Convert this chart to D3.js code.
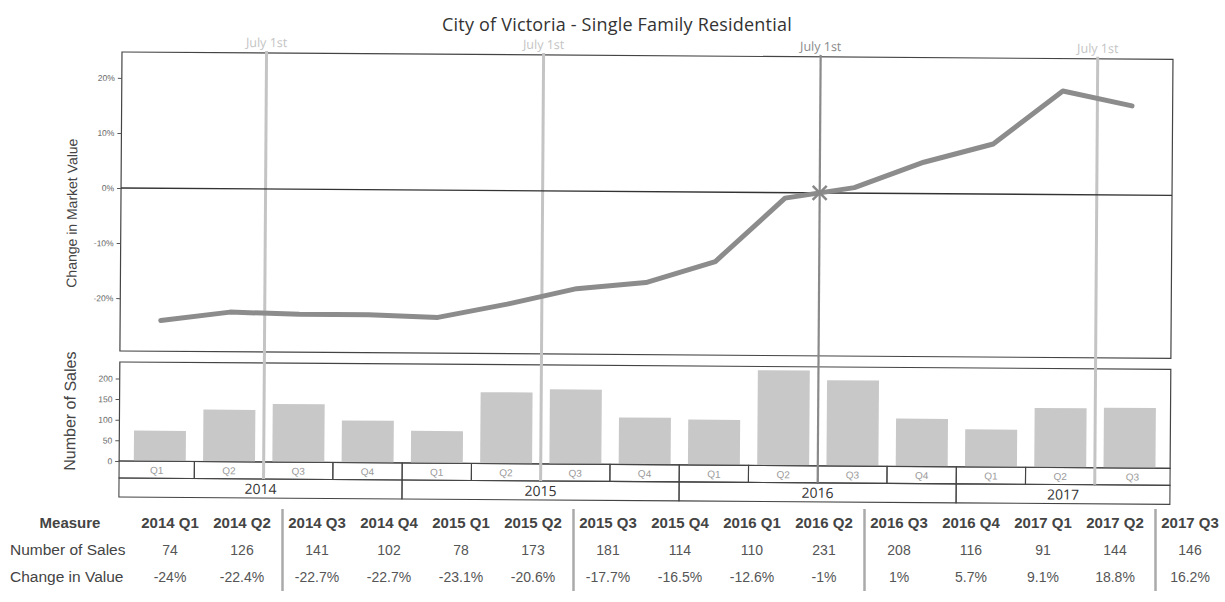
<!DOCTYPE html>
<html>
<head>
<meta charset="utf-8">
<script src="https://cdn.jsdelivr.net/npm/d3@7"></script>
<style>
  body { margin: 0; background: #fff; }
  svg { display: block; }
</style>
</head>
<body>
<svg id="chart" width="1225" height="602"></svg>
<script>
// Quarterly figures, City of Victoria single family residential
const quarters = ["2014 Q1","2014 Q2","2014 Q3","2014 Q4","2015 Q1","2015 Q2","2015 Q3","2015 Q4",
                  "2016 Q1","2016 Q2","2016 Q3","2016 Q4","2017 Q1","2017 Q2","2017 Q3"];
const quarterLabels = ["Q1","Q2","Q3","Q4","Q1","Q2","Q3","Q4","Q1","Q2","Q3","Q4","Q1","Q2","Q3"];
const years = ["2014","2015","2016","2017"];
const salesCount = [74,126,141,102,78,173,181,114,110,231,208,116,91,144,146];
const valueChange = [-24,-22.4,-22.7,-22.7,-23.1,-20.6,-17.7,-16.5,-12.6,-1,1,5.7,9.1,18.8,16.2];
const changeTicks = [20,10,0,-10,-20];
const salesTicks = [0,50,100,150,200];
const julyQuarters = ["2014 Q3","2015 Q3","2016 Q3","2017 Q3"];   // July 1st falls at the start of these
const highlightedJuly = "2016 Q3";
const rowLabels = ["Number of Sales","Change in Value"];

const svg = d3.select("#chart");
const font = "'Liberation Sans', Arial, sans-serif";

// Layout of the two stacked panels
const left = 122, right = 1173;
const lineTop = 52, lineBottom = 351;
const barTop = 362, barBase = 461;
const qRowH = 17, yearRowH = 19;

const x = d3.scaleBand().domain(quarters).range([left + 6, right - 6])
  .paddingInner(0.25).paddingOuter(0.125);
const step = x.step();
const slotStart = q => x(q) - step * 0.125;
const center = q => x(q) + x.bandwidth() / 2;

const yChange = d3.scaleLinear().domain([-29.6, 24.7]).range([lineBottom, lineTop]);
const ySales = d3.scaleLinear().domain([0, 240]).range([barBase, barTop]);

// Title
svg.append("text")
  .attr("x", 617).attr("y", 31)
  .attr("text-anchor", "middle")
  .attr("font-family", "'Open Sans', sans-serif")
  .attr("font-size", 18).attr("font-weight", 500)
  .attr("letter-spacing", 0.2)
  .attr("fill", "#333")
  .text("City of Victoria - Single Family Residential");

const g = svg.append("g").attr("transform", "rotate(0.4 122 52)");

// Panel frames
g.append("rect").attr("x", left).attr("y", lineTop)
  .attr("width", right - left).attr("height", lineBottom - lineTop)
  .attr("fill", "none").attr("stroke", "#444").attr("stroke-width", 1.2);
g.append("rect").attr("x", left).attr("y", barTop)
  .attr("width", right - left).attr("height", barBase - barTop)
  .attr("fill", "none").attr("stroke", "#444").attr("stroke-width", 1.2);

// Bars: number of sales
g.selectAll("rect.bar").data(quarters).join("rect")
  .attr("class", "bar")
  .attr("x", q => x(q))
  .attr("width", x.bandwidth())
  .attr("y", (q, i) => ySales(salesCount[i]))
  .attr("height", (q, i) => ySales(0) - ySales(salesCount[i]))
  .attr("fill", "#c8c8c8");

// Quarter header row
const qBox = (q, i) => ({
  x0: i === 0 ? left : slotStart(q),
  x1: i === quarters.length - 1 ? right : slotStart(q) + step
});
const qRow = g.append("g");
quarters.forEach((q, i) => {
  const b = qBox(q, i);
  qRow.append("rect").attr("x", b.x0).attr("y", barBase)
    .attr("width", b.x1 - b.x0).attr("height", qRowH)
    .attr("fill", "none").attr("stroke", "#444").attr("stroke-width", 1.1);
  qRow.append("text").attr("x", (b.x0 + b.x1) / 2).attr("y", barBase + 12.5)
    .attr("text-anchor", "middle").attr("font-family", font)
    .attr("font-size", 10).attr("fill", "#999").text(quarterLabels[i]);
});

// Year row
years.forEach(yr => {
  const idx = quarters.map((q, i) => i).filter(i => quarters[i].startsWith(yr));
  const b0 = qBox(quarters[idx[0]], idx[0]);
  const b1 = qBox(quarters[idx[idx.length - 1]], idx[idx.length - 1]);
  g.append("rect").attr("x", b0.x0).attr("y", barBase + qRowH)
    .attr("width", b1.x1 - b0.x0).attr("height", yearRowH)
    .attr("fill", "none").attr("stroke", "#444").attr("stroke-width", 1.1);
  g.append("text").attr("x", (b0.x0 + b1.x1) / 2).attr("y", barBase + qRowH + 15)
    .attr("text-anchor", "middle").attr("font-family", "'Open Sans', sans-serif")
    .attr("font-size", 14).attr("fill", "#333").text(yr);
});

// Axes
const axisChange = g.append("g").attr("transform", `translate(${left},0)`)
  .call(d3.axisLeft(yChange).tickValues(changeTicks).tickSize(4).tickFormat(d => d + "%"));
const axisSales = g.append("g").attr("transform", `translate(${left},0)`)
  .call(d3.axisLeft(ySales).tickValues(salesTicks).tickSize(4));
[axisChange, axisSales].forEach(a => {
  a.select(".domain").remove();
  a.selectAll("line").attr("stroke", "#555");
  a.selectAll("text").attr("font-family", font).attr("font-size", 8.5).attr("fill", "#666");
});

g.append("text")
  .attr("transform", `translate(78,${(lineTop + lineBottom) / 2 + 12}) rotate(-90)`)
  .attr("text-anchor", "middle").attr("font-family", font).attr("font-size", 14)
  .attr("fill", "#444").text("Change in Market Value");
g.append("text")
  .attr("transform", `translate(78,${(barTop + barBase) / 2}) rotate(-90)`)
  .attr("text-anchor", "middle").attr("font-family", font).attr("font-size", 16)
  .attr("fill", "#444").text("Number of Sales");

// July 1st reference lines
julyQuarters.forEach(q => {
  const hx = slotStart(q);
  const strong = q === highlightedJuly;
  g.append("line").attr("x1", hx).attr("x2", hx)
    .attr("y1", 50).attr("y2", barBase + qRowH)
    .attr("stroke", strong ? "#8a8a8a" : "#c4c4c4")
    .attr("stroke-width", strong ? 2.2 : 3);
  g.append("text").attr("x", hx).attr("y", 46)
    .attr("text-anchor", "middle").attr("font-family", "'Open Sans', sans-serif")
    .attr("font-size", 12.5).attr("fill", strong ? "#8a8a8a" : "#c4c4c4")
    .text("July 1st");
});

// Zero line
g.append("line").attr("x1", left).attr("x2", right)
  .attr("y1", yChange(0)).attr("y2", yChange(0))
  .attr("stroke", "#333").attr("stroke-width", 1.3);

// Change in market value line
g.append("path")
  .datum(valueChange)
  .attr("d", d3.line().x((v, i) => center(quarters[i])).y(v => yChange(v)))
  .attr("fill", "none").attr("stroke", "#8c8c8c")
  .attr("stroke-width", 5).attr("stroke-linejoin", "round").attr("stroke-linecap", "round");

// Cross where the value turns positive on July 1st
const mx = slotStart(highlightedJuly), my = yChange(0), r = 7;
g.append("path")
  .attr("d", `M${mx - r},${my - r}L${mx + r},${my + r}M${mx - r},${my + r}L${mx + r},${my - r}`)
  .attr("stroke", "#888").attr("stroke-width", 2.5);

// Data table
const groupOf = i => (i < 2 ? 0 : Math.floor((i - 2) / 4) + 1);
const col = i => 170 + i * 72 + groupOf(i) * 3;
const rowY = [528, 555, 582];
const table = svg.append("g").attr("font-family", font);

table.append("text").attr("x", 70).attr("y", rowY[0]).attr("text-anchor", "middle")
  .attr("font-size", 15).attr("font-weight", "bold").attr("fill", "#444").text("Measure");
rowLabels.forEach((t, r) => {
  table.append("text").attr("x", 10).attr("y", rowY[r + 1])
    .attr("font-size", 15.5).attr("fill", "#444").text(t);
});
quarters.forEach((q, i) => {
  table.append("text").attr("x", col(i)).attr("y", rowY[0]).attr("text-anchor", "middle")
    .attr("font-size", 15).attr("font-weight", "bold").attr("fill", "#444").text(q);
  table.append("text").attr("x", col(i)).attr("y", rowY[1]).attr("text-anchor", "middle")
    .attr("font-size", 14).attr("fill", "#555").text(salesCount[i]);
  table.append("text").attr("x", col(i)).attr("y", rowY[2]).attr("text-anchor", "middle")
    .attr("font-size", 14).attr("fill", "#555").text(valueChange[i] + "%");
});
// Separators before each July quarter
julyQuarters.forEach(q => {
  const i = quarters.indexOf(q);
  const sx = (col(i - 1) + col(i)) / 2 + 3;
  table.append("line").attr("x1", sx).attr("x2", sx).attr("y1", 509).attr("y2", 591)
    .attr("stroke", "#aaa").attr("stroke-width", 2.5);
});
</script>
</body>
</html>
